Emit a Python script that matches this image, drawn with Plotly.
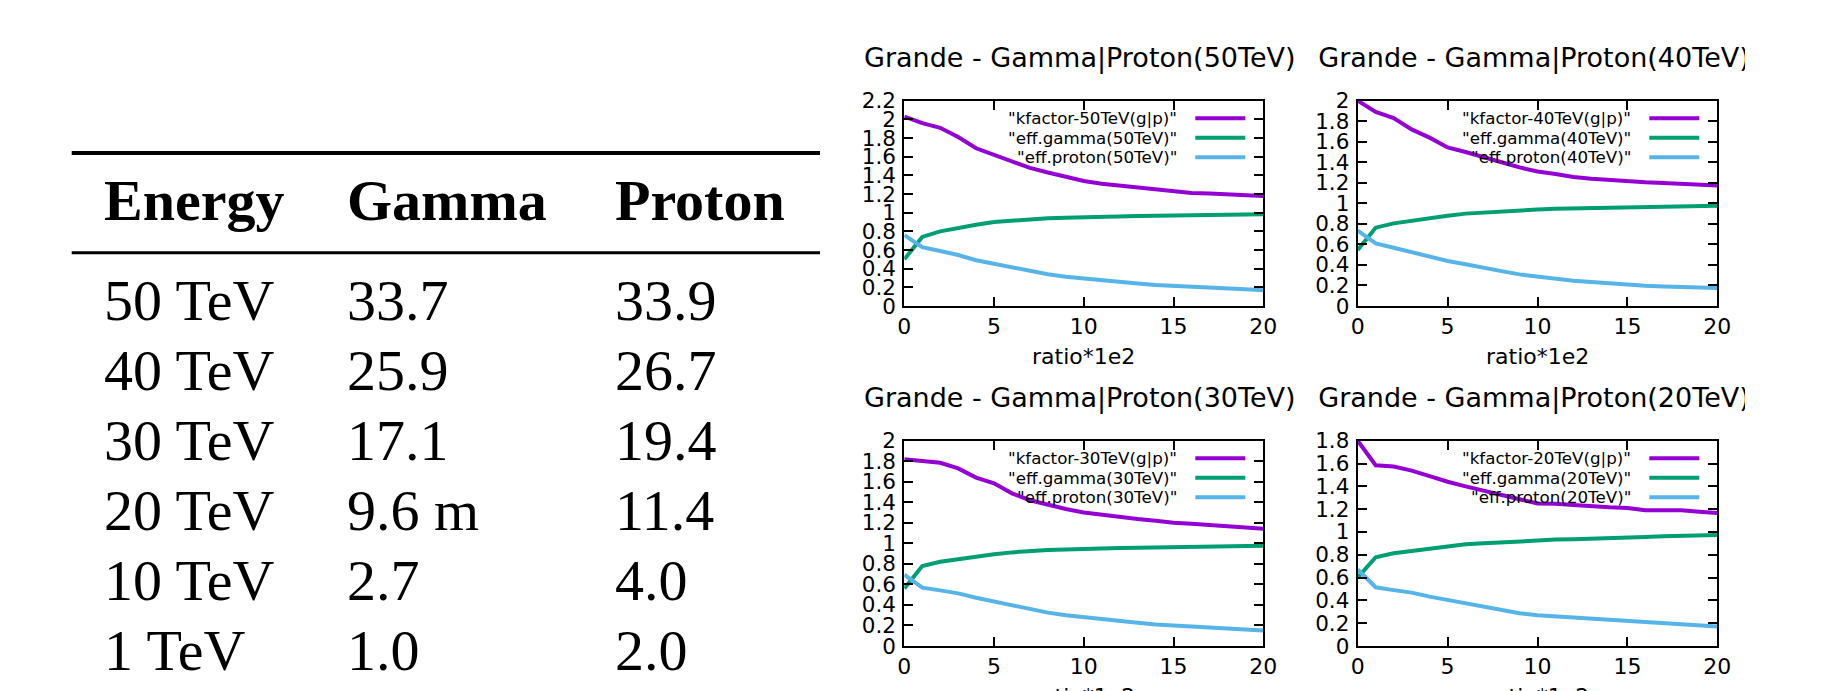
import plotly.graph_objects as go

# ---------------- data ----------------
table_headers = ["Energy", "Gamma", "Proton"]
table_energy = ["50 TeV", "40 TeV", "30 TeV", "20 TeV", "10 TeV", "1 TeV"]
table_gamma = ["33.7", "25.9", "17.1", "9.6 m", "2.7", "1.0"]
table_proton = ["33.9", "26.7", "19.4", "11.4", "4.0", "2.0"]

ratio = [0, 1, 2, 3, 4, 5, 6, 7, 8, 9, 10, 11, 12, 13, 14, 15, 16, 17, 18, 19, 20]

kfactor_50 = [2.03, 1.96, 1.91, 1.81, 1.69, 1.62, 1.55, 1.48, 1.43, 1.38, 1.34,
              1.31, 1.29, 1.26, 1.24, 1.225, 1.21, 1.205, 1.195, 1.185, 1.18]
gamma_50 = [0.50, 0.74, 0.80, 0.84, 0.87, 0.90, 0.915, 0.93, 0.94, 0.946, 0.953,
            0.957, 0.96, 0.964, 0.967, 0.97, 0.973, 0.974, 0.978, 0.98, 0.982]
proton_50 = [0.76, 0.63, 0.59, 0.546, 0.49, 0.45, 0.41, 0.375, 0.34, 0.314, 0.293,
             0.275, 0.257, 0.24, 0.225, 0.214, 0.204, 0.196, 0.19, 0.18, 0.17]

kfactor_40 = [2.00, 1.89, 1.83, 1.72, 1.64, 1.545, 1.50, 1.445, 1.40, 1.35, 1.31,
              1.285, 1.256, 1.24, 1.227, 1.214, 1.205, 1.198, 1.19, 1.18, 1.175]
gamma_40 = [0.545, 0.763, 0.805, 0.83, 0.86, 0.88, 0.90, 0.912, 0.922, 0.93, 0.94,
            0.948, 0.951, 0.955, 0.958, 0.961, 0.964, 0.968, 0.971, 0.974, 0.977]
proton_40 = [0.734, 0.61, 0.568, 0.523, 0.48, 0.438, 0.406, 0.37, 0.34, 0.308, 0.286,
             0.266, 0.247, 0.234, 0.22, 0.208, 0.198, 0.19, 0.185, 0.178, 0.175]

kfactor_30 = [1.82, 1.80, 1.785, 1.73, 1.64, 1.585, 1.487, 1.42, 1.373, 1.334, 1.30,
              1.276, 1.256, 1.237, 1.22, 1.20, 1.19, 1.18, 1.17, 1.156, 1.143]
gamma_30 = [0.56, 0.78, 0.82, 0.847, 0.87, 0.893, 0.912, 0.925, 0.935, 0.94, 0.948,
            0.951, 0.955, 0.958, 0.961, 0.964, 0.967, 0.97, 0.971, 0.974, 0.977]
proton_30 = [0.695, 0.568, 0.542, 0.513, 0.47, 0.435, 0.393, 0.36, 0.325, 0.30, 0.28,
             0.26, 0.243, 0.227, 0.21, 0.198, 0.188, 0.18, 0.17, 0.16, 0.15]

kfactor_20 = [1.80, 1.585, 1.573, 1.538, 1.49, 1.44, 1.40, 1.36, 1.325, 1.287, 1.25,
              1.248, 1.237, 1.225, 1.216, 1.21, 1.19, 1.19, 1.19, 1.178, 1.167]
gamma_20 = [0.60, 0.778, 0.813, 0.833, 0.86, 0.877, 0.892, 0.90, 0.91, 0.918, 0.924,
            0.933, 0.937, 0.94, 0.943, 0.953, 0.956, 0.962, 0.968, 0.971, 0.974]
proton_20 = [0.672, 0.515, 0.49, 0.468, 0.433, 0.404, 0.374, 0.345, 0.316, 0.287, 0.27,
             0.26, 0.25, 0.24, 0.23, 0.22, 0.205, 0.2, 0.19, 0.18, 0.17]

energies = ["50TeV", "40TeV", "30TeV", "20TeV"]
y_max = [2.2, 2.0, 2.0, 1.8]
y_tick_vals = [
    [0, 0.2, 0.4, 0.6, 0.8, 1, 1.2, 1.4, 1.6, 1.8, 2, 2.2],
    [0, 0.2, 0.4, 0.6, 0.8, 1, 1.2, 1.4, 1.6, 1.8, 2],
    [0, 0.2, 0.4, 0.6, 0.8, 1, 1.2, 1.4, 1.6, 1.8, 2],
    [0, 0.2, 0.4, 0.6, 0.8, 1, 1.2, 1.4, 1.6, 1.8],
]
x_tick_vals = [0, 5, 10, 15, 20]
series = [
    (kfactor_50, gamma_50, proton_50),
    (kfactor_40, gamma_40, proton_40),
    (kfactor_30, gamma_30, proton_30),
    (kfactor_20, gamma_20, proton_20),
]
series_names = ['"kfactor-{e}(g|p)"', '"eff.gamma({e})"', '"eff.proton({e})"']
series_colors = ["#9400d3", "#009e73", "#56b4e9"]

# ---------------- layout helpers ----------------
W, H = 1824, 691
CLIP_RIGHT = 1745  # the original picture is cut here


def px(x):
    return x / W


def py(y):
    return 1 - y / H


# plot-area boxes (left, right, top, bottom) in pixels
boxes = [
    (904.3, 1263.3, 100.7, 306.0),
    (1357.7, 1717.3, 100.7, 306.0),
    (904.3, 1263.3, 440.7, 646.0),
    (1357.7, 1717.3, 440.7, 646.0),
]

SANS = "DejaVu Sans"
SERIF = "Liberation Serif"

fig = go.Figure()
annotations = []
shapes = []
title_axis_no = 5

for i, (box, (kf, eg, ep)) in enumerate(zip(boxes, series)):
    l, r, t, b = box
    n = "" if i == 0 else str(i + 1)
    xa, ya = "x" + n, "y" + n
    for vals, name, col in zip((kf, eg, ep), series_names, series_colors):
        fig.add_trace(go.Scatter(
            x=ratio, y=vals, mode="lines", xaxis=xa, yaxis=ya,
            line=dict(color=col, width=4), showlegend=False,
            name=name.format(e=energies[i]), hoverinfo="skip"))

    fig.layout["xaxis" + n] = dict(
        domain=[px(l), px(r)], anchor=ya, range=[0, 20], automargin=False,
        tickvals=x_tick_vals, ticktext=[f"{v:g}" for v in x_tick_vals],
        ticks="inside", ticklen=9, tickwidth=2, tickcolor="black",
        showline=True, linecolor="black", linewidth=2, mirror="allticks",
        showgrid=False, zeroline=False, ticklabelstandoff=0,
        tickfont=dict(family=SANS, size=22, color="black"))
    fig.layout["yaxis" + n] = dict(
        domain=[py(b), py(t)], anchor=xa, range=[0, y_max[i]], automargin=False,
        tickvals=y_tick_vals[i], ticktext=[f"{v:g}" for v in y_tick_vals[i]],
        ticks="inside", ticklen=9, tickwidth=2, tickcolor="black",
        showline=True, linecolor="black", linewidth=2, mirror="allticks",
        showgrid=False, zeroline=False, ticklabelstandoff=2,
        tickfont=dict(family=SANS, size=21.5, color="black"))

    cx = (l + r) / 2
    title_text = f"Grande - Gamma|Proton({energies[i]})"
    title_x = cx - 3.5
    title_y = t - 43
    if r > W / 2 + 500:
        # right-hand column: title is cut at the picture's right border,
        # drawn as a clipped text trace on a hidden helper axis pair
        tn = str(title_axis_no)
        title_axis_no += 1
        x0, x1 = 1290, CLIP_RIGHT
        y0, y1 = title_y + 30, title_y - 30
        fig.layout["xaxis" + tn] = dict(
            domain=[px(x0), px(x1)], range=[x0, x1], visible=False,
            anchor="y" + tn, fixedrange=True)
        fig.layout["yaxis" + tn] = dict(
            domain=[py(y0), py(y1)], range=[y0, y1], visible=False,
            anchor="x" + tn, fixedrange=True)
        fig.add_trace(go.Scatter(
            x=[title_x], y=[title_y + 2.5], mode="text", text=[title_text],
            textposition="middle center", cliponaxis=True,
            xaxis="x" + tn, yaxis="y" + tn, showlegend=False, hoverinfo="skip",
            textfont=dict(family=SANS, size=27, color="black")))
    else:
        annotations.append(dict(
            text=title_text, x=px(title_x), y=py(title_y),
            xref="paper", yref="paper", xanchor="center", yanchor="middle",
            showarrow=False, font=dict(family=SANS, size=27, color="black")))
    # x-axis title
    annotations.append(dict(
        text="ratio*1e2", x=px(cx), y=py(b + 50),
        xref="paper", yref="paper", xanchor="center", yanchor="middle",
        showarrow=False, font=dict(family=SANS, size=22, color="black")))
    # key
    for k, (name, col) in enumerate(zip(series_names, series_colors)):
        ry = t + 17.6 + 19.5 * k
        annotations.append(dict(
            text=name.format(e=energies[i]), x=px(r - 84), y=py(ry),
            xref="paper", yref="paper", xanchor="right", yanchor="middle",
            showarrow=False, font=dict(family=SANS, size=16.7, color="black")))
        shapes.append(dict(
            type="line", xref="paper", yref="paper",
            x0=px(r - 68), x1=px(r - 18), y0=py(ry), y1=py(ry),
            line=dict(color=col, width=4)))

# ---------------- table ----------------
col_x = [102, 345, 613]
header_base = 220
row_base0, row_step = 320, 70
FS = 58
mid_off = 0.3375 * FS  # baseline -> box middle

for cx_, h in zip(col_x, table_headers):
    annotations.append(dict(
        text=f"<b>{h}</b>", x=px(cx_), y=py(header_base - mid_off),
        xref="paper", yref="paper", xanchor="left", yanchor="middle",
        showarrow=False, font=dict(family=SERIF, size=FS, color="black")))

for j, row in enumerate(zip(table_energy, table_gamma, table_proton)):
    base = row_base0 + row_step * j
    for cx_, txt in zip(col_x, row):
        annotations.append(dict(
            text=txt, x=px(cx_), y=py(base - mid_off),
            xref="paper", yref="paper", xanchor="left", yanchor="middle",
            showarrow=False, font=dict(family=SERIF, size=FS, color="black")))

shapes.append(dict(type="line", xref="paper", yref="paper",
                   x0=px(71.7), x1=px(820), y0=py(153), y1=py(153),
                   line=dict(color="black", width=4)))
shapes.append(dict(type="line", xref="paper", yref="paper",
                   x0=px(71.7), x1=px(820), y0=py(252.7), y1=py(252.7),
                   line=dict(color="black", width=3)))

fig.update_layout(
    width=W, height=H,
    margin=dict(l=0, r=0, t=0, b=0, pad=0, autoexpand=False),
    paper_bgcolor="white", plot_bgcolor="white",
    annotations=annotations, shapes=shapes, showlegend=False)

fig.write_html("out.html")
